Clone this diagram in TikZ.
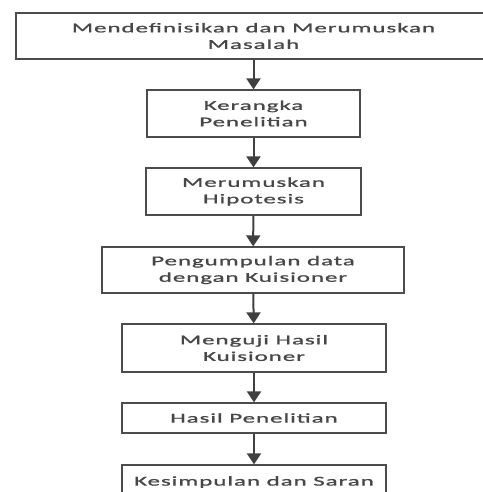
\documentclass[tikz,border=0pt]{standalone}
\usepackage{fontspec}
\setmainfont{Carlito}[FakeStretch=1.85,LetterSpace=7,FakeBold=1.2]
\usepackage{tikz}
\usetikzlibrary{arrows.meta}

\begin{document}
\begin{tikzpicture}[x=1pt,y=1pt,>=Stealth,
  kotak/.style={draw=black!70,line width=1.2pt,fill=white,align=center,
    inner sep=0pt,font=\fontsize{13.5}{16.5}\selectfont\color{black!72}},
  panah/.style={-{Triangle[width=14pt,length=11pt]},draw=black!75,line width=2pt}]
  \useasboundingbox (0,0) rectangle (482,-492);
  % boxes of the research flow
  \node[kotak,minimum width=475pt,minimum height=46pt] (masalah) at (253.5,-36)
    {Mendefinisikan dan Merumuskan\\Masalah};
  \node[kotak,minimum width=213pt,minimum height=47pt] (kerangka) at (253.5,-113.5)
    {Kerangka\\Penelitian};
  \node[kotak,minimum width=215pt,minimum height=47pt] (hipotesis) at (253.5,-191.5)
    {Merumuskan\\Hipotesis};
  \node[kotak,minimum width=302pt,minimum height=46pt] (kuisioner) at (253,-270)
    {Pengumpulan data\\dengan Kuisioner};
  \node[kotak,minimum width=264pt,minimum height=48pt] (menguji) at (254,-348)
    {Menguji Hasil\\Kuisioner};
  \node[kotak,minimum width=264pt,minimum height=30pt] (hasil) at (254,-418)
    {Hasil Penelitian};
  \node[kotak,minimum width=264pt,minimum height=34pt] (simpulan) at (254,-482)
    {Kesimpulan dan Saran};
  % arrows
  \draw[panah] (masalah) -- (kerangka);
  \draw[panah] (kerangka) -- (hipotesis);
  \draw[panah] (hipotesis) -- (kuisioner);
  \draw[panah] (kuisioner) -- (menguji);
  \draw[panah] (menguji) -- (hasil);
  \draw[panah] (hasil) -- (simpulan);
\end{tikzpicture}
\end{document}
